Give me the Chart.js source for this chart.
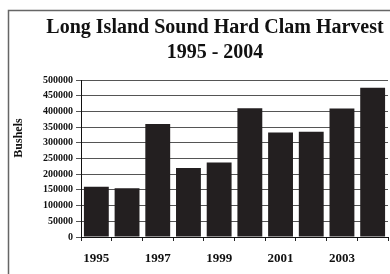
<!DOCTYPE html>
<html>
<head>
<meta charset="utf-8">
<script src="https://cdn.jsdelivr.net/npm/chart.js@4"></script>
<style>
  html, body { margin: 0; padding: 0; background: #fff; }
  #wrap { width: 390px; height: 274px; position: relative; }
</style>
</head>
<body>
<div id="wrap"><canvas id="clamChart"></canvas></div>
<script>
// Long Island Sound hard clam harvest, bushels per year
const years = ['1995', '1996', '1997', '1998', '1999', '2000', '2001', '2002', '2003', '2004'];
const bushels = [160000, 155000, 360000, 220000, 237000, 410000, 333000, 335000, 409000, 475000];
const titleLines = ['Long Island Sound Hard Clam Harvest', '1995 - 2004'];
const yAxisLabel = 'Bushels';

const serif = 'Liberation Serif';

// outer frame + rotated axis label
const framePlugin = {
    id: 'frame',
    beforeDraw(chart) {
        const ctx = chart.ctx;
        ctx.save();
        ctx.fillStyle = '#fff';
        ctx.fillRect(0, 0, chart.width, chart.height);
        ctx.strokeStyle = '#666';
        ctx.lineWidth = 1.5;
        ctx.beginPath();
        ctx.moveTo(8.5, chart.height);
        ctx.lineTo(8.5, 10.5);
        ctx.lineTo(chart.width, 10.5);
        ctx.stroke();
        ctx.restore();
    },
    afterDraw(chart) {
        const ctx = chart.ctx;
        ctx.save();
        ctx.translate(19, 138);
        ctx.rotate(-Math.PI / 2);
        ctx.font = 'bold 12px "' + serif + '"';
        ctx.fillStyle = '#111';
        ctx.textAlign = 'center';
        ctx.textBaseline = 'middle';
        ctx.fillText(yAxisLabel, 0, 0);
        ctx.restore();
    }
};

const ctx = document.getElementById('clamChart');
new Chart(ctx, {
    type: 'bar',
    data: {
        labels: years,
        datasets: [{
            label: yAxisLabel,
            data: bushels,
            backgroundColor: '#231f20',
            borderWidth: 0,
            barPercentage: 0.81,
            categoryPercentage: 1.0
        }]
    },
    options: {
        responsive: true,
        maintainAspectRatio: false,
        animation: false,
        layout: {
            padding: { left: 42, right: 2, top: 4, bottom: 0 }
        },
        plugins: {
            legend: { display: false },
            tooltip: { enabled: false },
            title: {
                display: true,
                text: titleLines,
                color: '#111',
                font: { family: serif, size: 20, weight: 'bold', lineHeight: 1.25 },
                padding: { top: 11, bottom: 15 }
            }
        },
        scales: {
            x: {
                afterFit(scale) { scale.height = 37; },
                grid: {
                    offset: true,
                    drawOnChartArea: false,
                    drawTicks: true,
                    tickLength: 4,
                    color: '#222'
                },
                border: { color: '#111', width: 1 },
                ticks: {
                    autoSkip: false,
                    maxRotation: 0,
                    padding: 10,
                    color: '#111',
                    font: { family: serif, size: 13, weight: 'bold' },
                    callback: function(value, index) {
                        return index % 2 === 0 ? this.getLabelForValue(value) : '';
                    }
                }
            },
            y: {
                min: 0,
                max: 500000,
                afterFit(scale) { scale.width = 39; },
                grid: {
                    color: '#555',
                    lineWidth: 1,
                    tickLength: 5,
                    drawTicks: true
                },
                border: { color: '#111', width: 1 },
                ticks: {
                    stepSize: 50000,
                    padding: 3,
                    color: '#111',
                    font: { family: serif, size: 10, weight: 'bold' },
                    callback: (v) => String(v)
                }
            }
        }
    },
    plugins: [framePlugin]
});
</script>
</body>
</html>
